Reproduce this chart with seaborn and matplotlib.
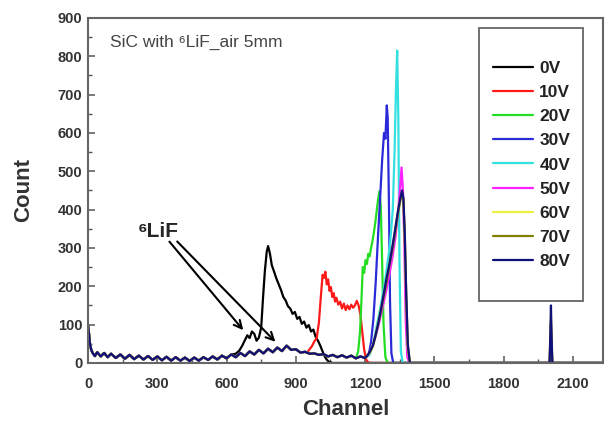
import matplotlib
matplotlib.use("Agg")
import numpy as np
import pandas as pd
import matplotlib.pyplot as plt
import seaborn as sns
from matplotlib.patches import Rectangle
from matplotlib.ticker import MultipleLocator

# shared low-energy background (channel, count)
BASE_CH = [0, 4, 8, 14, 20, 30, 40, 55, 70, 85,
           100, 120, 140, 160, 180, 200, 220, 240, 260, 280,
           300, 320, 340, 360, 380, 400, 420, 440, 460, 480,
           500, 520, 540, 560, 580, 600, 620, 640, 660, 680,
           700, 720, 740, 760, 780, 800, 820, 840, 860, 880,
           900, 920, 940, 960, 980, 1000, 1020, 1040, 1060, 1080,
           1100, 1120, 1140, 1160, 1180, 1200]
BASE_CT = [100, 78, 52, 34, 26, 18, 28, 17, 26, 15,
           24, 13, 22, 11, 21, 10, 19, 9, 18, 8,
           17, 7, 16, 6, 15, 6, 14, 5, 14, 6,
           15, 8, 17, 9, 19, 12, 22, 15, 26, 18,
           30, 22, 34, 25, 37, 28, 40, 31, 45, 34,
           36, 27, 29, 24, 25, 21, 23, 17, 21, 15,
           20, 14, 19, 12, 17, 13]

# 0V
CH_0V = [640, 655, 668, 680, 690, 700, 710, 720, 730, 740,
         750, 758, 766, 774, 780, 788, 796, 806, 816, 826,
         836, 846, 856, 866, 876, 886, 896, 906, 916, 926,
         936, 946, 956, 966, 976, 986, 996, 1006, 1016, 1026,
         1036, 1046, 1060]
CT_0V = [24, 32, 45, 60, 72, 65, 82, 76, 58, 66,
         92, 170, 240, 290, 305, 285, 255, 238, 220, 205,
         190, 172, 163, 148, 142, 128, 133, 115, 120, 102,
         108, 92, 99, 82, 87, 68, 58, 45, 30, 16,
         7, 2, 0]

# 10V
CH_10V = [950, 960, 970, 980, 990, 1000, 1008, 1016,
          1022, 1028, 1034, 1040, 1046, 1052, 1058, 1064, 1070, 1076,
          1084, 1092, 1100, 1108, 1116, 1124, 1132, 1140, 1148, 1156,
          1164, 1172, 1180, 1188, 1196, 1204, 1212, 1222]
CT_10V = [28, 36, 44, 56, 64, 105, 170, 230,
          222, 238, 205, 218, 188, 198, 172, 182, 160, 170,
          152, 160, 142, 155, 138, 150, 140, 152, 144, 150,
          162, 150, 125, 80, 35, 10, 2, 0]

# 20V
CH_20V = [1170, 1178, 1184, 1190, 1196, 1202, 1208, 1214, 1220, 1226,
          1232, 1238, 1244, 1250, 1256, 1262, 1268, 1274, 1280, 1288, 1298]
CT_20V = [30, 80, 160, 250, 235, 268, 258, 285, 278, 300,
          318, 340, 365, 395, 425, 448, 410, 260, 100, 15, 0]

# 30V
CH_30V = [1216, 1226, 1236, 1246, 1256, 1266, 1274, 1282, 1288, 1294,
          1298, 1303, 1308, 1314, 1322]
CT_30V = [22, 55, 115, 210, 330, 440, 530, 600, 585, 672,
          640, 430, 160, 25, 0]

# 40V
CH_40V = [1218, 1233, 1248, 1268, 1288, 1308, 1320, 1328, 1334, 1339,
          1344, 1349, 1355, 1363]
CT_40V = [20, 45, 90, 150, 220, 310, 400, 560, 720, 815,
          640, 260, 30, 0]

# 50V
CH_50V = [1212, 1227, 1242, 1257, 1272, 1287, 1302, 1317, 1332, 1344,
          1352, 1358, 1364, 1370, 1376, 1383, 1392]
CT_50V = [20, 38, 62, 95, 135, 175, 220, 270, 330, 400,
          460, 510, 450, 310, 110, 15, 0]

# 60V / 70V / 80V share channels
CH_HIGH = [1210, 1222, 1234, 1246, 1258, 1270, 1282, 1294, 1306, 1318,
           1330, 1342, 1352, 1360, 1366, 1372, 1378, 1385, 1394]
CT_60V = [18, 30, 48, 76, 108, 146, 182, 220, 262, 300,
          345, 392, 425, 440, 420, 320, 170, 40, 0]
CT_70V = [20, 28, 44, 72, 104, 140, 178, 214, 256, 296,
          340, 388, 422, 445, 425, 330, 180, 45, 0]
CT_80V = [19, 32, 46, 74, 106, 144, 184, 224, 260, 302,
          348, 395, 428, 450, 430, 335, 185, 50, 0]

# narrow pulser peak near channel 2000
SPIKE_CH = [1999, 2003, 2005, 2007, 2011]
SPIKE_30V = [0, 60, 100, 60, 0]
SPIKE_60V = [0, 80, 125, 70, 0]
SPIKE_70V = [0, 70, 110, 60, 0]
SPIKE_80V = [0, 90, 150, 85, 0]

END_CH = 2230

LABELS = ["0V", "10V", "20V", "30V", "40V", "50V", "60V", "70V", "80V"]
COLORS = ["#000000", "#ff1a1a", "#22dd22", "#2a2ad8", "#33e0e0",
          "#ff22ff", "#f0f040", "#808000", "#10107a"]

segments = {
    "0V": (CH_0V, CT_0V, None),
    "10V": (CH_10V, CT_10V, None),
    "20V": (CH_20V, CT_20V, None),
    "30V": (CH_30V, CT_30V, SPIKE_30V),
    "40V": (CH_40V, CT_40V, None),
    "50V": (CH_50V, CT_50V, None),
    "60V": (CH_HIGH, CT_60V, SPIKE_60V),
    "70V": (CH_HIGH, CT_70V, SPIKE_70V),
    "80V": (CH_HIGH, CT_80V, SPIKE_80V),
}

frames = []
for lab in LABELS:
    ch, ct, spike = segments[lab]
    xs = [c for c in BASE_CH if c < ch[0]]
    ys = BASE_CT[:len(xs)]
    xs = xs + ch
    ys = ys + ct
    if spike is not None:
        xs = xs + SPIKE_CH
        ys = ys + spike
    xs = xs + [END_CH]
    ys = ys + [0]
    frames.append(pd.DataFrame({"Channel": xs, "Count": ys, "bias": lab}))
df = pd.concat(frames, ignore_index=True)

sns.set_theme(style="ticks")
plt.rcParams["font.family"] = ["Liberation Sans", "DejaVu Sans"]
plt.rcParams["xtick.direction"] = "in"
plt.rcParams["ytick.direction"] = "in"

fig, ax = plt.subplots(figsize=(6.09, 4.28), dpi=100)
fig.subplots_adjust(left=0.1445, right=0.990, bottom=0.152, top=0.958)

sns.lineplot(data=df, x="Channel", y="Count", hue="bias", hue_order=LABELS,
             palette=COLORS, estimator=None, sort=False, linewidth=1.6, ax=ax)

ax.set_xlim(0, END_CH)
ax.set_ylim(0, 900)
ax.xaxis.set_major_locator(MultipleLocator(300))
ax.xaxis.set_minor_locator(MultipleLocator(150))
ax.yaxis.set_major_locator(MultipleLocator(100))
ax.yaxis.set_minor_locator(MultipleLocator(50))
ax.tick_params(which="major", length=5, width=1.1, color="#555555",
               labelsize=10.5, labelcolor="#333333", pad=4)
ax.tick_params(axis="x", which="major", pad=10)
ax.tick_params(which="minor", length=3, width=1.0, color="#555555")
for t in ax.get_xticklabels() + ax.get_yticklabels():
    t.set_fontweight("bold")
for s in ax.spines.values():
    s.set_color("#666666")
    s.set_linewidth(1.5)

ax.set_xlabel("Channel", fontsize=16, fontweight="bold", color="#333333", labelpad=6)
ax.set_ylabel("Count", fontsize=16, fontweight="bold", color="#333333", labelpad=17)

ax.text(0.043, 0.928, "SiC with \u2076LiF_air 5mm", transform=ax.transAxes,
        fontsize=12.5, color="#444444", va="center", ha="left")

# 6LiF label with two arrows
ax.text(305, 344, "\u2076LiF", fontsize=15, fontweight="bold", ha="center", va="center")
ax.annotate("", xy=(680, 80), xytext=(345, 322),
            arrowprops=dict(arrowstyle="->", color="black", lw=1.5, mutation_scale=14))
ax.annotate("", xy=(820, 50), xytext=(378, 322),
            arrowprops=dict(arrowstyle="->", color="black", lw=1.5, mutation_scale=14))

# legend in its own box
ax.add_patch(Rectangle((0.759, 0.180), 0.202, 0.791, transform=ax.transAxes,
                       fill=False, edgecolor="#666666", linewidth=1.3, zorder=5))
handles, labels = ax.get_legend_handles_labels()
ax.legend(handles, labels, loc="center", bbox_to_anchor=(0.862, 0.574),
          frameon=False, prop={"weight": "bold", "size": 12.5},
          labelspacing=0.52, handlelength=2.3, handletextpad=0.35,
          labelcolor="#222222")

fig.savefig("out.png", dpi=100)
